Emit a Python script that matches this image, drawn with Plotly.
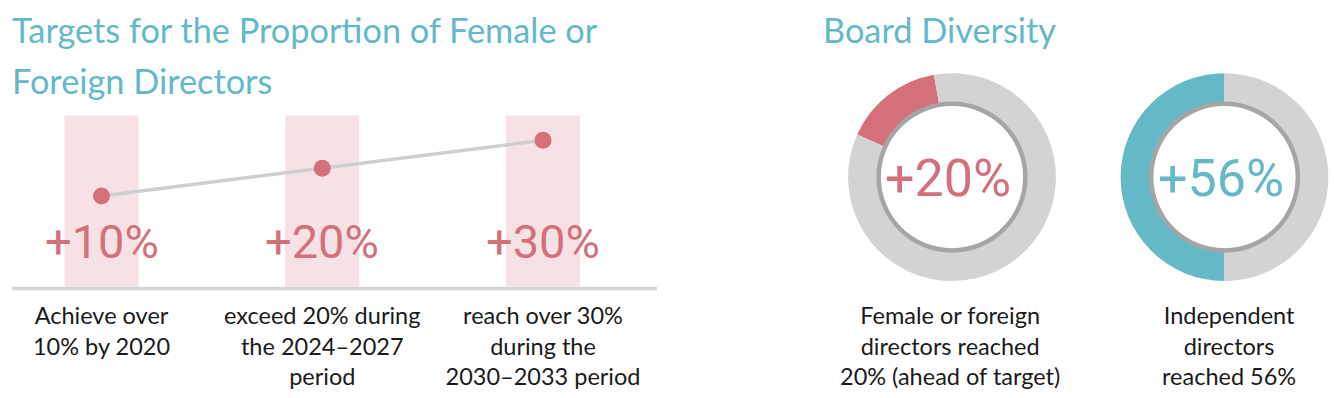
import plotly.graph_objects as go

# ---------------- data ----------------
target_labels = ["+10%", "+20%", "+30%"]
target_values = [10, 20, 30]
target_texts = [
    "Achieve over<br>10% by 2020",
    "exceed 20% during<br>the 2024\u20132027<br>period",
    "reach over 30%<br>during the<br>2030\u20132033 period",
]
donut_filled = [15.5, 50]          # share of each ring drawn in colour (as pictured)
donut_arc_end = [-10, 0]           # angle (deg, clockwise from 12 o'clock) where the coloured arc ends
donut_labels = ["+20%", "+56%"]
donut_texts = [
    "Female or foreign<br>directors reached<br>20% (ahead of target)",
    "Independent<br>directors<br>reached 56%",
]
title_left_lines = ["Targets for the Proportion of Female or", "Foreign Directors"]
title_right = "Board Diversity"

# ---------------- style ----------------
OFF = 8                       # default page body margin
W, H = 1338 - 2 * OFF, 398 - 2 * OFF
PINK = "#d4707c"
PINK_BG = "#f6e2e5"
TEAL = "#65b8c6"
TITLE = "#63b9c8"
RING_GREY = "#d3d3d3"
RING_DARK = "#a5a5a5"
TXT = "#1a1a1a"
BODY_FONT = "Lato, 'Source Sans Pro', 'Noto Sans', sans-serif"
NUM_FONT = "Roboto, 'Liberation Sans Narrow', sans-serif"
donut_colors = [PINK, TEAL]


def px_x(p):
    return (p - OFF) / W


def px_y(p):
    return 1 - (p - OFF) / H


fig = go.Figure()

# ---- left panel: target line ----
fig.add_trace(go.Scatter(
    x=list(range(len(target_values))), y=target_values,
    mode="lines+markers",
    line=dict(color="#cfcfcf", width=3.5),
    marker=dict(color=PINK, size=17),
    hoverinfo="skip", showlegend=False,
))

x_unit = 220.75
x0_px = 101.5
x_range = [(12 - x0_px) / x_unit, (657 - x0_px) / x_unit]
y_per = 2.8
y_range = [10 - (288 - 197) / y_per, 10 + (197 - 116) / y_per]

fig.update_layout(
    xaxis=dict(domain=[px_x(12), px_x(657)], range=x_range, showgrid=False,
               zeroline=False, showline=False,
               tickmode="array", tickvals=list(range(len(target_texts))),
               ticktext=target_texts, ticks="",
               tickfont=dict(family=BODY_FONT, size=23.5, color=TXT),
               ticklabelstandoff=13),
    yaxis=dict(domain=[px_y(288), px_y(116)], range=y_range, showgrid=False,
               zeroline=False, showline=False, showticklabels=False),
)

shapes = []
for i in range(len(target_values)):
    shapes.append(dict(type="rect", xref="x", yref="y domain",
                       x0=i - 0.168, x1=i + 0.168, y0=0, y1=1,
                       fillcolor=PINK_BG, line=dict(width=0), layer="below"))
shapes.append(dict(type="line", xref="x domain", yref="paper",
                   x0=0, x1=1, y0=px_y(290), y1=px_y(290),
                   line=dict(color="#d5d5d5", width=3.5), layer="above"))

annotations = []
for i, lab in enumerate(target_labels):
    annotations.append(dict(x=i, y=px_y(243), xref="x", yref="paper",
                            text=lab, showarrow=False, xanchor="center",
                            yanchor="middle",
                            font=dict(family=NUM_FONT, size=47, color=PINK)))

# ---- right panel: donuts ----
centers = [(952, 178), (1224.5, 178)]
R_OUT, R_IN = 104.5, 73
R_RING_OUT, R_RING_IN = 76, 71.5
for k, (cx, cy) in enumerate(centers):
    fig.add_trace(go.Pie(
        values=[donut_filled[k], 100 - donut_filled[k]],
        marker=dict(colors=[donut_colors[k], RING_GREY], line=dict(width=0)),
        hole=R_IN / R_OUT, sort=False, direction="clockwise",
        rotation=donut_arc_end[k] - donut_filled[k] * 3.6,
        textinfo="none", hoverinfo="skip", showlegend=False,
        domain=dict(x=[px_x(cx - R_OUT), px_x(cx + R_OUT)],
                    y=[px_y(cy + R_OUT), px_y(cy - R_OUT)]),
    ))
    fig.add_trace(go.Pie(
        values=[1], marker=dict(colors=[RING_DARK], line=dict(width=0)),
        hole=R_RING_IN / R_RING_OUT, sort=False, textinfo="none",
        hoverinfo="skip", showlegend=False,
        domain=dict(x=[px_x(cx - R_RING_OUT), px_x(cx + R_RING_OUT)],
                    y=[px_y(cy + R_RING_OUT), px_y(cy - R_RING_OUT)]),
    ))
    annotations.append(dict(x=px_x(cx - 4), y=px_y(cy + 1), xref="paper", yref="paper",
                            text=donut_labels[k], showarrow=False,
                            xanchor="center", yanchor="middle",
                            font=dict(family=NUM_FONT, size=52,
                                      color=donut_colors[k])))
    annotations.append(dict(x=px_x(cx - 2 + 6 * k), y=px_y(301), xref="paper", yref="paper",
                            text=donut_texts[k], showarrow=False,
                            xanchor="center", yanchor="top", align="center",
                            font=dict(family=BODY_FONT, size=23.5, color=TXT)))

# ---- titles ----
TITLE_SIZE = 34.3
for j, line in enumerate(title_left_lines):
    annotations.append(dict(x=px_x(10), y=px_y(30 + 51 * j), xref="paper", yref="paper",
                            text=line, showarrow=False, xanchor="left",
                            yanchor="middle", align="left",
                            font=dict(family=BODY_FONT, size=TITLE_SIZE, color=TITLE)))
annotations.append(dict(x=px_x(821), y=px_y(30), xref="paper", yref="paper",
                        text=title_right, showarrow=False, xanchor="left",
                        yanchor="middle", align="left",
                        font=dict(family=BODY_FONT, size=TITLE_SIZE, color=TITLE)))

fig.update_layout(
    width=W, height=H, margin=dict(l=0, r=0, t=0, b=0),
    paper_bgcolor="white", plot_bgcolor="rgba(0,0,0,0)",
    shapes=shapes, annotations=annotations,
)

fig.write_html("out.html")
